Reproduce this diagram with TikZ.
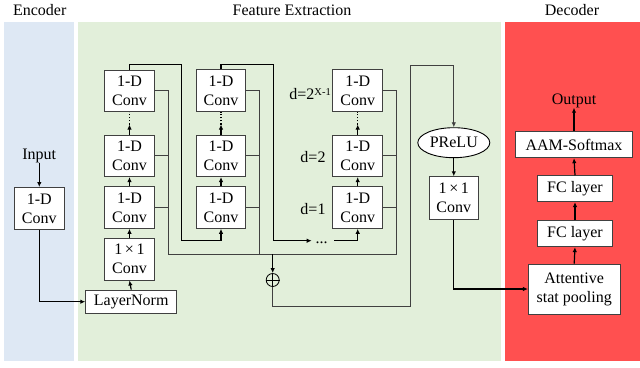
\documentclass[tikz,border=0pt]{standalone}
\usepackage{fontspec}
\setmainfont{Liberation Serif}
\usetikzlibrary{arrows.meta,shapes.geometric}
\definecolor{encblue}{HTML}{DEE8F4}
\definecolor{fegreen}{HTML}{E2EFDA}
\definecolor{decred}{HTML}{FF5050}
\definecolor{edgegray}{HTML}{404040}
\begin{document}
\begin{tikzpicture}[x=1pt,y=-1pt,
  txt/.style={font=\fontsize{16}{19}\selectfont, inner sep=0pt},
  blk/.style={draw=edgegray, line width=0.9pt, fill=white, align=center, font=\fontsize{16}{19}\selectfont, inner sep=0pt},
  conv/.style={blk, minimum width=49.6pt, minimum height=41.7pt},
  arr/.style={draw=black, line width=1.2pt, -{Latex[length=5pt,width=4.5pt]}},
  sig/.style={draw=black, line width=1.1pt},
  res/.style={draw=edgegray, line width=0.8pt},
]
\useasboundingbox (0,0) rectangle (640,367);
% panels
\fill[encblue] (4,22) rectangle (74,361);
\fill[fegreen] (78,22) rectangle (501,361);
\fill[decred] (505,22) rectangle (640,361);
% titles
\node[txt] (tenc) at (39.7,10) {Encoder};
\node[txt] (tfe) at (292,10) {Feature Extraction};
\node[txt] (tdec) at (572,10) {Decoder};
% encoder
\node[txt] (input) at (39.3,156) {Input};
\node[conv] (enc) at (39.3,208.3) {1-D\\Conv};
\node[blk, minimum width=91pt, minimum height=23.3pt] (ln) at (131.2,301.7) {LayerNorm};
% column 1
\node[conv] (c1p) at (129.5,259.2) {1\,×\,1\\Conv};
\node[conv] (c1a) at (129.5,207.5) {1-D\\Conv};
\node[conv] (c1b) at (129.5,155.8) {1-D\\Conv};
\node[conv] (c1c) at (129.5,90.8) {1-D\\Conv};
% column 2
\node[conv] (c2a) at (221,207.5) {1-D\\Conv};
\node[conv] (c2b) at (221,155.8) {1-D\\Conv};
\node[conv] (c2c) at (221,90.4) {1-D\\Conv};
% column 3
\node[conv] (c3a) at (357.7,207.5) {1-D\\Conv};
\node[conv] (c3b) at (357.7,155.8) {1-D\\Conv};
\node[conv] (c3c) at (357.7,90.5) {1-D\\Conv};
\node[txt, anchor=east] (lx) at (331,94) {d=2\raisebox{0.55ex}{\fontsize{10.5}{11}\selectfont X-1}};
\node[txt] (l2) at (313,157) {d=2};
\node[txt] (l1) at (313,209) {d=1};
% sum
\node[circle, draw=black, line width=0.8pt, minimum size=13pt, inner sep=0pt] (sum) at (272.7,280) {};
\draw[line width=0.8pt] (sum.north) -- (sum.south) (sum.west) -- (sum.east);
% prelu and conv
\node[ellipse, draw=black, line width=0.9pt, fill=white, minimum width=72pt, minimum height=30pt, inner sep=0pt, font=\fontsize{16}{19}\selectfont] (prelu) at (453.8,142.7) {PReLU};
\node[blk, minimum width=49pt, minimum height=42.6pt] (c4) at (453.8,198) {1\,×\,1\\Conv};
% decoder
\node[blk, minimum width=91.7pt, minimum height=50pt] (att) at (574.2,289) {Attentive\\stat pooling};
\node[blk, minimum width=75.4pt, minimum height=26pt] (fc1) at (575,233.7) {FC layer};
\node[blk, minimum width=75.4pt, minimum height=26pt] (fc2) at (575,188.7) {FC layer};
\node[blk, minimum width=116.6pt, minimum height=26pt] (aam) at (574,144.7) {AAM-Softmax};
\node[txt] (out) at (574,100.5) {Output};
% coordinates
\coordinate (b1) at (168.3,254);
\coordinate (b2) at (259.3,254);
\coordinate (b3) at (396,254);
\coordinate (bs) at (272.7,254);
\coordinate (l1a) at (181.7,64.3);
\coordinate (l1b) at (181.7,240.7);
\coordinate (l2a) at (273.3,64.3);
\coordinate (l2b) at (273.3,240.7);
\coordinate (dl) at (311.7,240.7);
\coordinate (dr) at (334,240.7);
\coordinate (r1) at (410,306);
\coordinate (r2) at (410,65);
\node[txt, anchor=base] (dots) at (321.7,243) {...};
% encoder edges
\draw[arr] (input.south) -- (enc.north);
\draw[arr] (enc.south) |- (ln.west);
% column 1 edges
\draw[arr] (ln.north) -- (c1p.south);
\draw[arr] (c1p.north) -- (c1a.south);
\draw[arr] (c1a.north) -- (c1b.south);
\draw[arr] (c1b.north) -- ++(0,-10) coordinate (d1);
\draw[sig, dotted] (d1) -- (c1c.south);
% column 2 edges
\draw[arr] (c1c.north) |- (l1a) -- (l1b) -| (c2a.south);
\draw[arr] (c2a.north) -- (c2b.south);
\draw[arr] (c2b.north) -- ++(0,-10) coordinate (d2);
\draw[sig, dotted] (d2) -- (c2c.south);
% column 3 edges
\draw[arr] (c2c.north) |- (l2a) -- (l2b) -- (dl);
\draw[arr] (dr) -| (c3a.south);
\draw[arr] (c3a.north) -- (c3b.south);
\draw[arr] (c3b.north) -- ++(0,-10) coordinate (d3);
\draw[sig, dotted] (d3) -- (c3c.south);
% residual buses
\draw[res] (c1c.east) -| (b1) -- (b3) |- (c3c.east);
\draw[res] (c1b.east) -- (c1b.east -| b1);
\draw[res] (c1a.east) -- (c1a.east -| b1);
\draw[res] (c2c.east) -| (b2);
\draw[res] (c2b.east) -- (c2b.east -| b2);
\draw[res] (c2a.east) -- (c2a.east -| b2);
\draw[res] (c3b.east) -- (c3b.east -| b3);
\draw[res] (c3a.east) -- (c3a.east -| b3);
% sum and beyond
\draw[arr] (bs) -- (sum.north);
\draw[arr, draw=edgegray, line width=0.9pt] (sum.south) |- (r1) -- (r2) -| (prelu.north);
\draw[arr] (prelu.south) -- (c4.north);
\draw[arr] (c4.south) |- (att.west);
% decoder edges
\draw[arr] (att.north) -- (fc1.south);
\draw[arr] (fc1.north) -- (fc2.south);
\draw[arr] (fc2.north) -- (aam.south);
\draw[arr] (aam.north) -- (out.south);
\end{tikzpicture}
\end{document}
